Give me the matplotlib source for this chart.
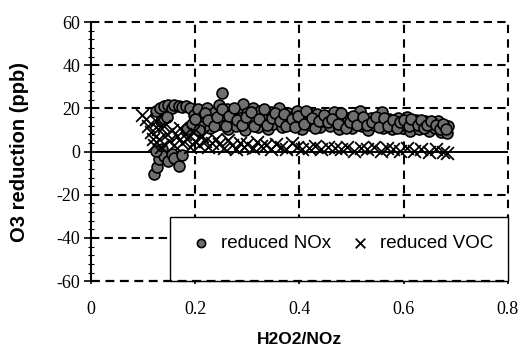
import numpy as np
import matplotlib
matplotlib.use("Agg")
import matplotlib.pyplot as plt
from matplotlib.ticker import MultipleLocator, FuncFormatter
from matplotlib.patches import Rectangle

# NOx reduced case (circles)
nox_x = [0.121, 0.126, 0.130, 0.136, 0.140, 0.148, 0.155, 0.160, 0.168, 0.175, 0.124,
         0.125, 0.132, 0.140, 0.148, 0.155, 0.160, 0.168, 0.175, 0.182, 0.190, 0.135,
         0.145, 0.185, 0.193, 0.198,
         0.205, 0.210, 0.215, 0.222, 0.228, 0.232, 0.238, 0.245, 0.248, 0.251, 0.255,
         0.260, 0.262, 0.268, 0.272, 0.278, 0.283, 0.287, 0.292, 0.296, 0.300, 0.305,
         0.310, 0.315, 0.320, 0.324, 0.330, 0.335, 0.340, 0.345, 0.350, 0.356, 0.360,
         0.366, 0.372, 0.378, 0.383, 0.390, 0.395, 0.400, 0.405, 0.410, 0.416, 0.420,
         0.427, 0.433, 0.440, 0.445, 0.452, 0.458, 0.466, 0.470, 0.476, 0.482, 0.488,
         0.494, 0.500, 0.506, 0.512, 0.517, 0.520, 0.526, 0.532, 0.538, 0.544, 0.550,
         0.558, 0.560, 0.566, 0.572, 0.578, 0.584, 0.590, 0.596, 0.602, 0.607, 0.612,
         0.618, 0.624, 0.630, 0.636, 0.642, 0.648, 0.655, 0.660, 0.666, 0.672, 0.678,
         0.684, 0.686,
         0.200, 0.207, 0.218, 0.225, 0.235, 0.242, 0.252, 0.258, 0.265, 0.275, 0.280,
         0.290, 0.298, 0.307, 0.313, 0.322, 0.332, 0.338, 0.348, 0.353, 0.362, 0.370,
         0.375, 0.386, 0.392, 0.398, 0.408, 0.413, 0.424, 0.430, 0.437, 0.448, 0.455,
         0.462, 0.474, 0.480, 0.490, 0.497, 0.503, 0.510, 0.523, 0.530, 0.540, 0.547,
         0.553, 0.563, 0.570, 0.580, 0.587, 0.593, 0.600, 0.610, 0.615, 0.627, 0.633,
         0.640, 0.645, 0.652, 0.663, 0.670, 0.675, 0.682]
nox_y = [-10.5, -7.0, -3.5, 1.0, -2.0, -4.5, -1.0, -3.0, -6.5, -1.5, 0.5,
         19.0, 20.0, 21.0, 21.5, 20.0, 21.5, 21.0, 20.5, 21.0, 20.0, 14.0,
         16.0, 10.5, 13.0, 17.0,
         19.5, 13.0, 16.5, 20.0, 11.0, 15.0, 18.5, 21.5, 13.0, 27.0, 17.0,
         19.5, 10.5, 14.0, 17.5, 12.0, 19.5, 15.5, 22.0, 10.0, 18.0, 13.5,
         20.0, 16.0, 11.5, 19.0, 14.0, 17.0, 10.5, 18.5, 13.0, 16.0, 20.0,
         11.5, 15.0, 18.0, 12.5, 16.5, 19.0, 13.5, 10.5, 16.0, 18.0, 12.5,
         15.0, 17.5, 11.5, 14.0, 16.5, 12.0, 18.5, 14.5, 10.5, 16.0, 13.0,
         15.5, 11.0, 14.0, 16.0, 19.0, 12.0, 14.5, 10.0, 15.5, 12.5, 14.0,
         18.5, 11.0, 13.5, 15.0, 10.5, 13.0, 15.5, 11.0, 12.5, 16.0, 9.5,
         13.0, 14.5, 10.5, 12.0, 14.0, 9.5, 12.5, 11.0, 14.0, 9.0, 11.5,
         8.5, 12.0,
         15.0, 10.0, 18.0, 14.5, 12.0, 16.0, 19.5, 12.0, 16.5, 20.0, 14.5,
         12.5, 16.0, 18.5, 12.0, 15.0, 19.5, 12.5, 15.5, 18.0, 14.0, 17.5,
         12.0, 15.0, 11.5, 16.5, 13.0, 19.0, 15.5, 11.0, 14.0, 17.0, 13.5,
         15.0, 13.0, 18.0, 11.0, 13.5, 16.5, 12.5, 16.0, 12.5, 13.5, 16.0,
         11.5, 15.5, 12.0, 14.5, 11.0, 13.5, 14.5, 12.0, 15.0, 12.5, 14.5,
         11.0, 12.5, 14.0, 12.5, 10.5, 13.0, 10.5]

# VOC reduced case (crosses)
voc_x = [0.098, 0.105, 0.110, 0.115, 0.118, 0.120, 0.125, 0.128, 0.130, 0.135,
         0.140, 0.145, 0.150, 0.155, 0.160, 0.165, 0.170, 0.175, 0.180, 0.185,
         0.190, 0.195, 0.200, 0.207, 0.212, 0.218, 0.225, 0.232, 0.240, 0.246,
         0.255, 0.262, 0.270, 0.278, 0.285, 0.293, 0.300, 0.310, 0.318, 0.326,
         0.335, 0.345, 0.355, 0.365, 0.375, 0.385, 0.395, 0.405, 0.418, 0.430,
         0.442, 0.455, 0.468, 0.480, 0.492, 0.505, 0.518, 0.530, 0.543, 0.556,
         0.568, 0.580, 0.594, 0.607, 0.620, 0.634, 0.648, 0.662, 0.676, 0.684]
voc_y = [17.0, 15.0, 12.0, 9.0, 6.0, 3.0, 14.0, 10.5, 6.0, 2.0,
         12.0, 8.0, 5.0, 10.0, 3.0, 7.0, 11.0, 4.0, 8.0, 6.0,
         2.0, 9.0, 5.0, 3.0, 7.0, 5.0, 2.0, 4.0, 6.0, 3.5,
         1.5, 5.5, 3.0, 1.0, 4.0, 2.0, 3.5, 1.5, 4.5, 2.5,
         3.0, 1.0, 3.5, 2.0, 1.0, 4.0, 2.0, 1.0, 1.5, 2.5,
         1.0, 2.0, 1.5, 1.0, 2.0, 0.5, 1.5, 1.0, 2.0, 0.5,
         1.5, 1.0, 0.5, 1.5, 0.5, 1.0, 0.0, 1.0, 0.0, -0.5]

xticks = [0, 0.2, 0.4, 0.6, 0.8]
yticks = [-60, -40, -20, 0, 20, 40, 60]

plt.rcParams['axes.unicode_minus'] = False

fig = plt.figure(figsize=(5.3, 3.55), dpi=100)
ax = fig.add_axes([0.172, 0.208, 0.786, 0.730])

ax.set_xlim(0, 0.8)
ax.set_ylim(-60, 60)

dash = (0, (4, 2.5))
for yv in yticks:
    if yv == 0:
        ax.axhline(0, color='black', lw=1.4, zorder=1)
    elif yv == -60:
        ax.axhline(yv, color='black', lw=1.6, ls=dash, zorder=6, clip_on=False)
    else:
        ax.axhline(yv, color='black', lw=1.5, ls=dash, zorder=1, clip_on=False)
for xv in xticks[1:]:
    ax.axvline(xv, color='black', lw=1.5, ls=(0, (4, 3)), zorder=1, clip_on=False)

ax.scatter(nox_x, nox_y, s=62, marker='o', facecolor='#6f6f6f', edgecolor='black',
           linewidths=1.2, zorder=3, label='reduced NOx')
ax.scatter(voc_x, voc_y, s=85, marker='x', color='black', linewidths=1.3,
           zorder=4, label='reduced VOC')

for s in ['top', 'right', 'bottom']:
    ax.spines[s].set_visible(False)
ax.spines['left'].set_linewidth(1.5)
ax.spines['left'].set_zorder(7)

ax.set_xticks(xticks)
ax.set_yticks(yticks)
ax.yaxis.set_minor_locator(MultipleLocator(4))
ax.xaxis.set_major_formatter(FuncFormatter(lambda v, p: '%g' % v))
ax.tick_params(axis='y', which='major', direction='out', length=5, width=1.2, pad=3)
ax.tick_params(axis='y', which='minor', direction='inout', length=4, width=0.8)
ax.tick_params(axis='x', which='major', direction='inout', length=5, width=1.2, pad=12)
for lab in ax.get_xticklabels() + ax.get_yticklabels():
    lab.set_fontfamily('Liberation Serif')
    lab.set_fontsize(13)

ax.set_xlabel('H2O2/NOz', fontfamily='Liberation Sans', fontweight='bold',
              fontsize=12.5, labelpad=10)
ax.set_ylabel('O3 reduction (ppb)', fontfamily='Liberation Sans', fontweight='bold',
              fontsize=14.5, labelpad=20)

# legend box: white panel in the lower right corner of the plot
box = Rectangle((0.189, 0.0), 0.811, 0.247, transform=ax.transAxes, facecolor='white',
                edgecolor='black', lw=1.0, zorder=5, clip_on=False)
ax.add_patch(box)
leg = ax.legend(loc='center', bbox_to_anchor=(0.603, 0.147), ncol=2, frameon=False,
                prop={'family': 'Liberation Sans', 'size': 13.5},
                handlelength=1.0, handletextpad=0.6, columnspacing=1.0,
                markerscale=0.75, borderaxespad=0)
leg.set_zorder(8)

fig.savefig('out.png', dpi=100)
